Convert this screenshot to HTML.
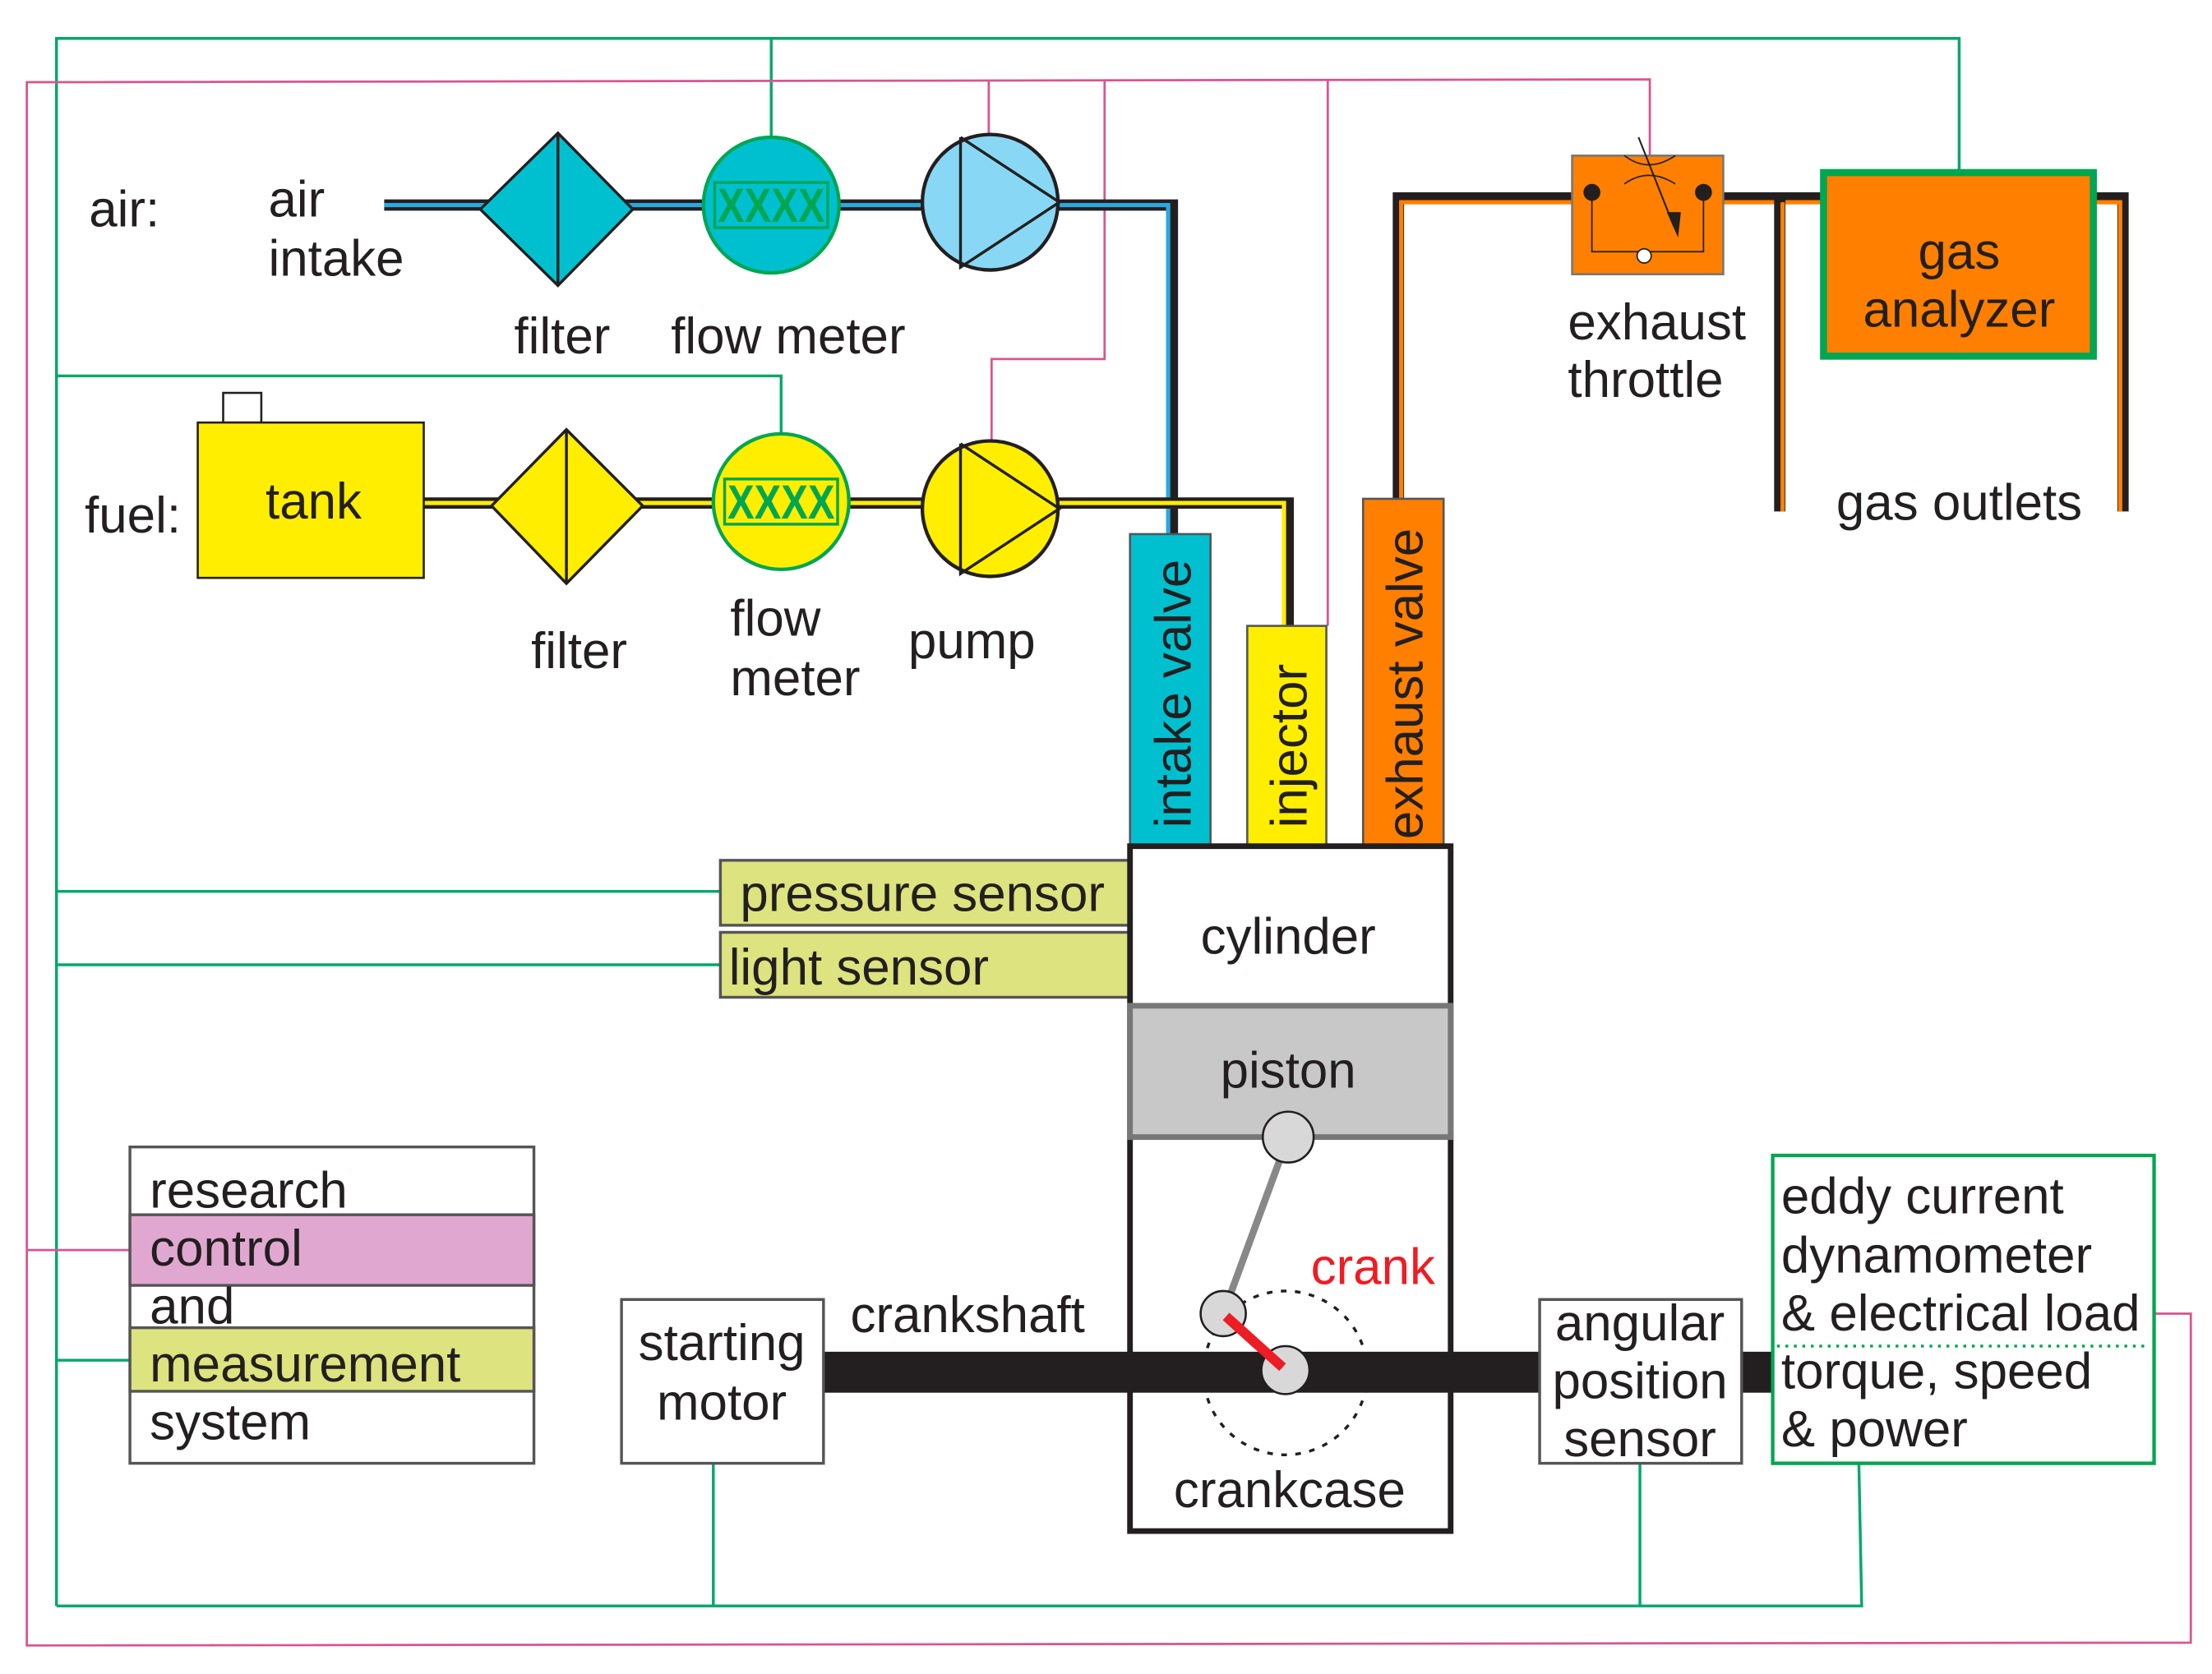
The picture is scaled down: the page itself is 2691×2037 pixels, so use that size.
<!DOCTYPE html>
<html><head><meta charset="utf-8"><style>
html,body{margin:0;padding:0;background:#fff;}
svg{display:block;}
text{font-family:"Liberation Sans",sans-serif;fill:#231f20;font-size:36px;}
</style></head><body>
<svg width="2691" height="2037" viewBox="0 0 1566 1185" xmlns="http://www.w3.org/2000/svg">
<rect width="1566" height="1185" fill="#fff"/>
<g fill="none" stroke="#00a86b" stroke-width="2">
<polyline points="40,1137 40,27 1387,27 1387,122"/>
<line x1="546" y1="27" x2="546" y2="96"/>
<polyline points="40,266 553,266 553,306"/>
<line x1="40" y1="631" x2="510" y2="631"/>
<line x1="40" y1="683" x2="510" y2="683"/>
<line x1="40" y1="963" x2="92" y2="963"/>
<polyline points="40,1137 1318,1137 1316,1036"/>
<line x1="505" y1="1036" x2="505" y2="1137"/>
<line x1="1161" y1="1036" x2="1161" y2="1137"/>
</g>
<g fill="none" stroke="#d9548f" stroke-width="1.6">
<polyline points="1168,110 1168,56 19,58 19,1165 1551,1163 1551,930 1525,930"/>
<line x1="19" y1="885" x2="92" y2="885"/>
<line x1="700" y1="57" x2="700" y2="96"/>
<polyline points="782,57 782,254 702,254 702,312"/>
<line x1="940" y1="57" x2="940" y2="443"/>
</g>
<g fill="none">
<polyline points="272,145 830,145 830,378" stroke="#231f20" stroke-width="8"/>
<polyline points="272,145 827,145 827,378" stroke="#29a9e0" stroke-width="3"/>
<polyline points="300,356 912,356 912,443" stroke="#231f20" stroke-width="8"/>
<polyline points="300,356 909,356 909,443" stroke="#ffee00" stroke-width="3"/>
<polyline points="990,353 990,140 1503,140 1503,362" stroke="#231f20" stroke-width="8"/>
<polyline points="992,353 992,143 1501,143 1501,362" stroke="#ff7f00" stroke-width="3"/>
<line x1="1260" y1="140" x2="1260" y2="362" stroke="#231f20" stroke-width="8"/>
<line x1="1262" y1="143" x2="1262" y2="362" stroke="#ff7f00" stroke-width="3"/>
</g>
<polygon points="340,148 395,94 448,148 395,202" fill="#00c0d0" stroke="#231f20" stroke-width="2"/>
<line x1="395" y1="94" x2="395" y2="202" stroke="#231f20" stroke-width="2"/>
<circle cx="546" cy="145" r="48" fill="#00c0d0" stroke="#00a651" stroke-width="2.5"/>
<rect x="506" y="129" width="80" height="32" fill="none" stroke="#00a651" stroke-width="2"/>
<text x="546" y="157" text-anchor="middle" style="fill:#00a651;font-size:34px;font-weight:bold" textLength="76" lengthAdjust="spacingAndGlyphs">XXXX</text>
<circle cx="701" cy="143" r="48" fill="#88d8f5" stroke="#231f20" stroke-width="2.5"/>
<polyline points="680,97 680,189 750,143 680,97" fill="none" stroke="#231f20" stroke-width="2"/>
<rect x="158" y="278" width="27" height="21" fill="#fff" stroke="#231f20" stroke-width="1.5"/>
<rect x="140" y="299" width="160" height="110" fill="#ffee00" stroke="#231f20" stroke-width="1.5"/>
<polygon points="348,358 401,304 455,358 401,413" fill="#ffee00" stroke="#231f20" stroke-width="2"/>
<line x1="401" y1="304" x2="401" y2="413" stroke="#231f20" stroke-width="2"/>
<circle cx="553" cy="355" r="48" fill="#ffee00" stroke="#00a651" stroke-width="2.5"/>
<rect x="513" y="339" width="80" height="32" fill="none" stroke="#00a651" stroke-width="2"/>
<text x="553" y="367" text-anchor="middle" style="fill:#00a651;font-size:34px;font-weight:bold" textLength="76" lengthAdjust="spacingAndGlyphs">XXXX</text>
<circle cx="701" cy="360" r="48" fill="#ffee00" stroke="#231f20" stroke-width="2.5"/>
<polyline points="680,314 680,406 750,360 680,314" fill="none" stroke="#231f20" stroke-width="2"/>
<text x="63" y="160">air:</text>
<text x="190" y="153">air</text>
<text x="190" y="195">intake</text>
<text x="364" y="250">filter</text>
<text x="475" y="250">flow meter</text>
<text x="60" y="377">fuel:</text>
<text x="188" y="367">tank</text>
<text x="376" y="473">filter</text>
<text x="517" y="450">flow</text>
<text x="517" y="492">meter</text>
<text x="643" y="466">pump</text>
<rect x="800" y="378" width="57" height="221" fill="#00c0d0" stroke="#555" stroke-width="1.5"/>
<rect x="883" y="443" width="56" height="156" fill="#ffee00" stroke="#555" stroke-width="1.5"/>
<rect x="965" y="353" width="57" height="246" fill="#ff7f00" stroke="#555" stroke-width="1.5"/>
<text transform="translate(843,586) rotate(-90)">intake valve</text>
<text transform="translate(925,586) rotate(-90)">injector</text>
<text transform="translate(1007,594) rotate(-90)">exhaust valve</text>
<rect x="1113" y="110" width="107" height="84" fill="#ff7f00" stroke="#777" stroke-width="1.5"/>
<polyline points="1127,136 1127,178 1206,178 1206,136" fill="none" stroke="#231f20" stroke-width="1"/>
<circle cx="1127" cy="136" r="6" fill="#231f20"/>
<circle cx="1206" cy="136" r="6" fill="#231f20"/>
<circle cx="1164" cy="181" r="5" fill="#fff" stroke="#231f20" stroke-width="1"/>
<path d="M1150,102 Q1167,115 1186,102 M1150,122 Q1167,110 1186,122" fill="none" stroke="#231f20" stroke-width="1" transform="translate(0,8)"/>
<line x1="1160" y1="97" x2="1185" y2="160" stroke="#231f20" stroke-width="1.2"/>
<polygon points="1180,150 1190,150 1188,168" fill="#231f20"/>
<rect x="1291" y="122" width="191" height="130" fill="#ff7f00" stroke="#00a651" stroke-width="5"/>
<text x="1387" y="190" text-anchor="middle">gas</text>
<text x="1387" y="231" text-anchor="middle">analyzer</text>
<text x="1110" y="240">exhaust</text>
<text x="1110" y="281">throttle</text>
<text x="1300" y="368">gas outlets</text>
<rect x="510" y="609" width="290" height="46" fill="#dce37f" stroke="#555" stroke-width="2"/>
<rect x="510" y="660" width="290" height="46" fill="#dce37f" stroke="#555" stroke-width="2"/>
<text x="524" y="645">pressure sensor</text>
<text x="516" y="697">light sensor</text>
<rect x="800" y="599" width="227" height="485" fill="#fff" stroke="#231f20" stroke-width="4"/>
<rect x="800" y="712" width="227" height="93" fill="#c8c8c8" stroke="#777" stroke-width="4"/>
<text x="912" y="675" text-anchor="middle">cylinder</text>
<text x="912" y="770" text-anchor="middle">piston</text>
<text x="913" y="1067" text-anchor="middle">crankcase</text>
<rect x="583" y="957" width="672" height="29" fill="#231f20"/>
<circle cx="910" cy="972" r="58" fill="none" stroke="#231f20" stroke-width="2" stroke-dasharray="4,6"/>
<line x1="912" y1="805" x2="866" y2="930" stroke="#888" stroke-width="5"/>
<circle cx="912" cy="805" r="18" fill="#d8d8d8" stroke="#231f20" stroke-width="1.5"/>
<circle cx="866" cy="930" r="16" fill="#d8d8d8" stroke="#231f20" stroke-width="1.5"/>
<circle cx="910" cy="970" r="17" fill="#d8d8d8" stroke="#231f20" stroke-width="1.5"/>
<line x1="868" y1="932" x2="908" y2="968" stroke="#ee1c24" stroke-width="7"/>
<text x="928" y="909" style="fill:#ee1c24">crank</text>
<text x="602" y="943">crankshaft</text>
<rect x="440" y="920" width="143" height="116" fill="#fff" stroke="#555" stroke-width="2"/>
<text x="511" y="963" text-anchor="middle">starting</text>
<text x="511" y="1005" text-anchor="middle">motor</text>
<rect x="1090" y="920" width="143" height="116" fill="#fff" stroke="#555" stroke-width="2"/>
<text x="1161" y="949" text-anchor="middle">angular</text>
<text x="1161" y="990" text-anchor="middle">position</text>
<text x="1161" y="1031" text-anchor="middle">sensor</text>
<rect x="1255" y="818" width="270" height="218" fill="#fff" stroke="#00a651" stroke-width="2.5"/>
<line x1="1258" y1="953" x2="1522" y2="953" stroke="#00a651" stroke-width="2" stroke-dasharray="2,4"/>
<text x="1261" y="859">eddy current</text>
<text x="1261" y="901">dynamometer</text>
<text x="1261" y="942">&amp; electrical load</text>
<text x="1261" y="983">torque, speed</text>
<text x="1261" y="1024">&amp; power</text>
<rect x="92" y="812" width="286" height="224" fill="#fff" stroke="#555" stroke-width="2"/>
<rect x="92" y="860" width="286" height="50" fill="#e0a8d0" stroke="#555" stroke-width="2"/>
<rect x="92" y="940" width="286" height="45" fill="#dce37f" stroke="#555" stroke-width="2"/>
<text x="106" y="855">research</text>
<text x="106" y="896">control</text>
<text x="106" y="937">and</text>
<text x="106" y="978">measurement</text>
<text x="106" y="1019">system</text>
</svg>
</body></html>
